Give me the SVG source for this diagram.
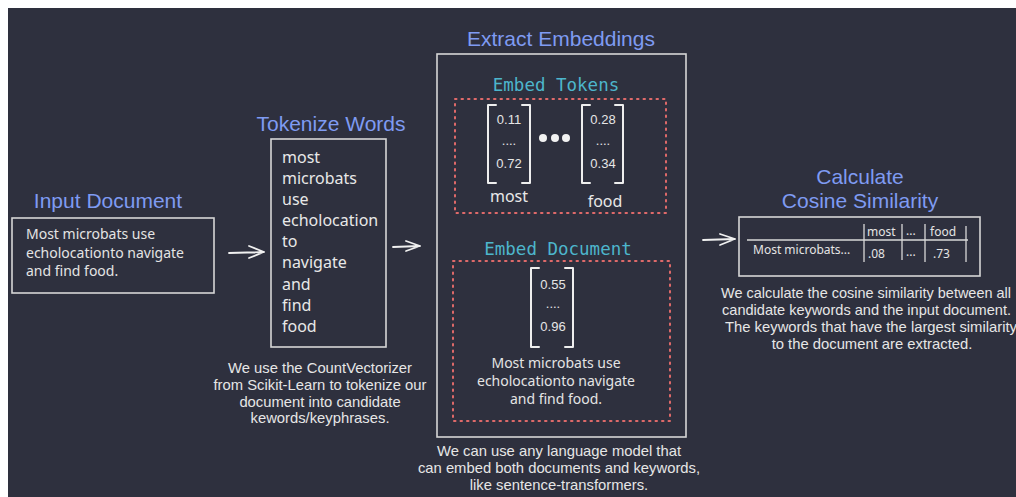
<svg xmlns="http://www.w3.org/2000/svg" width="1016" height="497" viewBox="0 0 1016 497">
<style>
.title{font-family:"Liberation Sans",Arial,sans-serif;font-size:21px;fill:#7f9bf2}
.mono{font-family:"DejaVu Sans Mono","Liberation Mono",monospace;font-size:17.5px;fill:#4db6cc}
.body{font-family:"Noto Sans","Open Sans",sans-serif;font-size:14px;fill:#e4e4e4}
.tok{font-family:"Noto Sans","Open Sans",sans-serif;font-size:16px;fill:#e8e8e8}
.cap{font-family:"Liberation Sans",Arial,sans-serif;font-size:14.8px;fill:#e6e6e6;text-anchor:middle}
.num{font-family:"Liberation Sans",Arial,sans-serif;font-size:13px;fill:#e6e6e6;text-anchor:middle}
.box{fill:none;stroke:#d6d6d6;stroke-width:1.6}
.dot{fill:none;stroke:#e06a6a;stroke-width:2;stroke-dasharray:1.5 5;stroke-linecap:round}
.br{fill:none;stroke:#eeeeee;stroke-width:2;stroke-linecap:round;stroke-linejoin:round}
.arr{fill:none;stroke:#f0f0f0;stroke-width:1.8;stroke-linecap:round;stroke-linejoin:round}
.tl{fill:none;stroke:#d8d8d8;stroke-width:1.3}
.tb{font-family:"Noto Sans","Open Sans",sans-serif;font-size:12px;fill:#e4e4e4}
</style>
<rect x="0" y="0" width="1016" height="497" fill="#ffffff"/>
<rect x="8" y="8" width="1008" height="489" fill="#2e303e"/>

<g id="input-document">
  <text class="title" x="108" y="208" text-anchor="middle">Input Document</text>
  <rect class="box" x="12" y="218" width="202" height="75"/>
  <text class="body" x="26" y="239">Most microbats use</text>
  <text class="body" x="26" y="258">echolocationto navigate</text>
  <text class="body" x="26" y="276">and find food.</text>
</g>

<g id="tokenize-words">
  <text class="title" x="331" y="131" text-anchor="middle" font-size="20">Tokenize Words</text>
  <rect class="box" x="271" y="139" width="115" height="208"/>
  <text class="tok" x="282" y="163">most</text>
  <text class="tok" x="282" y="184">microbats</text>
  <text class="tok" x="282" y="205">use</text>
  <text class="tok" x="282" y="226">echolocation</text>
  <text class="tok" x="282" y="247">to</text>
  <text class="tok" x="282" y="268">navigate</text>
  <text class="tok" x="282" y="290">and</text>
  <text class="tok" x="282" y="311">find</text>
  <text class="tok" x="282" y="332">food</text>
  <text class="cap" x="320" y="373">We use the CountVectorizer</text>
  <text class="cap" x="320" y="390">from Scikit-Learn to tokenize our</text>
  <text class="cap" x="320" y="407">document into candidate</text>
  <text class="cap" x="320" y="423">kewords/keyphrases.</text>
</g>

<g id="extract-embeddings">
  <text class="title" x="561" y="46" text-anchor="middle" font-size="21.8">Extract Embeddings</text>
  <rect class="box" x="437" y="54" width="249" height="383"/>
  <text class="cap" x="559" y="456">We can use any language model that</text>
  <text class="cap" x="559" y="473">can embed both documents and keywords,</text>
  <text class="cap" x="559" y="490">like sentence-transformers.</text>
</g>

<g id="embed-tokens">
  <text class="mono" x="556" y="91" text-anchor="middle">Embed Tokens</text>
  <rect class="dot" x="455" y="99" width="211" height="114"/>
  <path class="br" d="M496,105 L488,105 L488,183 L496,183 M522,105 L530,105 L530,183 L522,183"/>
  <text class="num" x="509" y="124">0.11</text>
  <text class="num" x="509" y="145" font-size="10">....</text>
  <text class="num" x="509" y="168">0.72</text>
  <text class="tok" x="509" y="202" text-anchor="middle" font-size="19">most</text>
  <circle cx="543" cy="138" r="4" fill="#f2f2f2"/>
  <circle cx="555" cy="138" r="4" fill="#f2f2f2"/>
  <circle cx="566" cy="138" r="4" fill="#f2f2f2"/>
  <path class="br" d="M590,105 L582,105 L582,183 L590,183 M615,105 L623,105 L623,183 L615,183"/>
  <text class="num" x="603" y="124">0.28</text>
  <text class="num" x="603" y="145" font-size="10">....</text>
  <text class="num" x="603" y="168">0.34</text>
  <text class="tok" x="605" y="207" text-anchor="middle" font-size="19">food</text>
</g>

<g id="embed-document">
  <text class="mono" x="558" y="255" text-anchor="middle">Embed Document</text>
  <rect class="dot" x="453" y="261" width="217" height="160"/>
  <path class="br" d="M539,268 L531,268 L531,347 L539,347 M565,268 L573,268 L573,347 L565,347"/>
  <text class="num" x="553" y="289">0.55</text>
  <text class="num" x="553" y="308" font-size="10">....</text>
  <text class="num" x="553" y="331">0.96</text>
  <text class="body" x="556" y="368" text-anchor="middle">Most microbats use</text>
  <text class="body" x="556" y="386" text-anchor="middle">echolocationto navigate</text>
  <text class="body" x="556" y="404" text-anchor="middle">and find food.</text>
</g>

<g id="cosine-similarity">
  <text class="title" x="860" y="184" text-anchor="middle">Calculate</text>
  <text class="title" x="860" y="208" text-anchor="middle">Cosine Similarity</text>
  <rect class="box" x="739" y="217" width="241" height="59"/>
  <line class="tl" x1="747" y1="240" x2="968" y2="240"/>
  <line class="tl" x1="864" y1="224" x2="864" y2="262"/>
  <line class="tl" x1="902" y1="224" x2="902" y2="260"/>
  <line class="tl" x1="925" y1="224" x2="925" y2="262"/>
  <line class="tl" x1="966" y1="226" x2="966" y2="262"/>
  <text class="tb" x="867" y="236">most</text>
  <text class="tb" x="906" y="235" font-size="10">...</text>
  <text class="tb" x="930" y="236">food</text>
  <text class="tb" x="753" y="254">Most microbats...</text>
  <text class="tb" x="868" y="258">.08</text>
  <text class="tb" x="906" y="256" font-size="10">...</text>
  <text class="tb" x="933" y="258">.73</text>
  <text class="cap" x="866" y="298" textLength="290" lengthAdjust="spacingAndGlyphs">We calculate the cosine similarity between all</text>
  <text class="cap" x="866.5" y="315" textLength="289" lengthAdjust="spacingAndGlyphs">candidate keywords and the input document.</text>
  <text class="cap" x="871" y="332">The keywords that have the largest similarity</text>
  <text class="cap" x="872" y="349">to the document are extracted.</text>
</g>

<g id="connectors">
  <path class="arr" d="M229,253 L264,252 M249,246 L264,252 L249,258"/>
  <path class="arr" d="M393,247 L420,246 M406,241 L420,246 L406,251"/>
  <path class="arr" d="M703,240 L735,239 M720,234 L735,239 L720,245"/>
</g>
</svg>
